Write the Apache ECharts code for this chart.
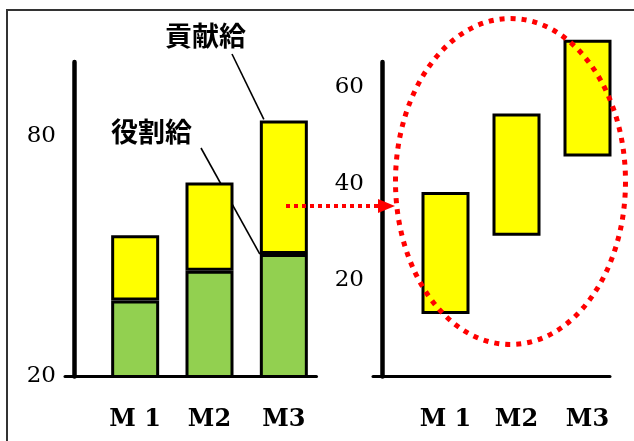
<!DOCTYPE html>
<html>
<head>
<meta charset="utf-8">
<script src="https://cdn.jsdelivr.net/npm/echarts@6/dist/echarts.min.js"></script>
<style>
  html, body { margin: 0; padding: 0; background: #fff; }
  #chart { width: 634px; height: 441px; }
</style>
</head>
<body>
<div id="chart"></div>
<script>
// Months shown on both panels
const categories = ['M 1', 'M2', 'M3'];

// Left panel: stacked pay (役割給 below, 貢献給 on top)
const rolePay = [39, 46.4, 50.6];
const contributionPay = [16.3, 22.1, 33.4];
const leftTickLabels = [20, 80];

// Right panel: contribution pay band (floating bars: low end + span)
const bandLow = [13, 29.2, 45.7];
const bandSpan = [25.3, 25.4, 24.2];
const rightTickLabels = [20, 40, 60];

const GREEN = '#92D050';
const YELLOW = '#FFFF00';
const RED = '#FF0000';
const serif = 'DejaVu Serif';
const gothic = '"Noto Sans CJK JP", sans-serif';

const chart = echarts.init(document.getElementById('chart'), null, { renderer: 'canvas' });

function tickFormatter(list) {
  return function (v) {
    return list.indexOf(Math.round(v * 1000) / 1000) >= 0 ? String(v) : '';
  };
}

const barBorder = { borderColor: '#000', borderWidth: 3 };
const catLabel = { fontFamily: serif, fontWeight: 'bold', fontSize: 24, color: '#000', margin: 31 };
const valLabel = { fontFamily: serif, fontSize: 23, color: '#000', margin: 18, padding: [0, 0, 8, 0] };

const option = {
  animation: false,
  backgroundColor: '#fff',
  grid: [
    // left bars
    { left: 98, width: 223, top: 62, height: 314.5, outerBoundsMode: 'none' },
    // left baseline
    { left: 65, width: 251.5, top: 62, height: 314.5, outerBoundsMode: 'none' },
    // right bars
    { left: 410, width: 213, top: 62, height: 314.5, outerBoundsMode: 'none' },
    // right baseline
    { left: 373, width: 237, top: 62, height: 314.5, outerBoundsMode: 'none' }
  ],
  xAxis: [
    { gridIndex: 0, type: 'category', data: categories,
      axisLine: { show: false }, axisTick: { show: false }, axisLabel: catLabel },
    { gridIndex: 1, type: 'value', min: 0, max: 1,
      axisLine: { show: true, lineStyle: { color: '#000', width: 3 } },
      axisTick: { show: false }, axisLabel: { show: false }, splitLine: { show: false } },
    { gridIndex: 2, type: 'category', data: categories,
      axisLine: { show: false }, axisTick: { show: false }, axisLabel: catLabel },
    { gridIndex: 3, type: 'value', min: 0, max: 1,
      axisLine: { show: true, lineStyle: { color: '#000', width: 3 } },
      axisTick: { show: false }, axisLabel: { show: false }, splitLine: { show: false } }
  ],
  yAxis: [
    { gridIndex: 0, type: 'value', min: 20, max: 98.6, interval: 20, offset: 24,
      axisLine: { show: true, lineStyle: { color: '#000', width: 4.5 } },
      axisTick: { show: false }, splitLine: { show: false },
      axisLabel: Object.assign({ formatter: tickFormatter(leftTickLabels), showMaxLabel: false }, valLabel) },
    { gridIndex: 1, type: 'value', show: false, min: 0, max: 1 },
    { gridIndex: 2, type: 'value', min: 0, max: 65.3, interval: 20, offset: 28,
      axisLine: { show: true, lineStyle: { color: '#000', width: 4.5 } },
      axisTick: { show: false }, splitLine: { show: false },
      axisLabel: Object.assign({ formatter: tickFormatter(rightTickLabels), showMaxLabel: false }, valLabel) },
    { gridIndex: 3, type: 'value', show: false, min: 0, max: 1 }
  ],
  series: [
    { name: '役割給', type: 'bar', xAxisIndex: 0, yAxisIndex: 0, stack: 'pay',
      data: rolePay, barWidth: 48, z: 3,
      itemStyle: Object.assign({ color: GREEN }, barBorder) },
    { name: '貢献給', type: 'bar', xAxisIndex: 0, yAxisIndex: 0, stack: 'pay',
      data: contributionPay, barWidth: 48, z: 3,
      itemStyle: Object.assign({ color: YELLOW }, barBorder) },
    { name: 'base', type: 'bar', xAxisIndex: 2, yAxisIndex: 2, stack: 'band',
      data: bandLow, barWidth: 48, silent: true, clip: false,
      itemStyle: { color: 'rgba(0,0,0,0)', borderWidth: 0 } },
    { name: '貢献給幅', type: 'bar', xAxisIndex: 2, yAxisIndex: 2, stack: 'band',
      data: bandSpan, barWidth: 48, clip: false, z: 3,
      itemStyle: Object.assign({ color: YELLOW }, barBorder) }
  ]
};

chart.setOption(option);

// Leader lines point at the corners of the M3 bar segments
const m3 = categories[2];
const halfBar = 24;
const m3RoleTop = chart.convertToPixel({ xAxisIndex: 0, yAxisIndex: 0 }, [m3, rolePay[2]]);
const m3TotalTop = chart.convertToPixel({ xAxisIndex: 0, yAxisIndex: 0 }, [m3, rolePay[2] + contributionPay[2]]);

chart.setOption({
  graphic: [
    // frame edges
    { type: 'polyline', z: 0, shape: { points: [[7, 441], [7, 10], [634, 10]] },
      style: { stroke: '#333', lineWidth: 2, fill: 'none' } },
    // leader lines (drawn under the bars)
    { type: 'line', z: 1, shape: { x1: 232, y1: 54, x2: m3TotalTop[0] - halfBar + 4, y2: m3TotalTop[1] - 1 },
      style: { stroke: '#000', lineWidth: 1.6 } },
    { type: 'line', z: 1, shape: { x1: 201, y1: 148, x2: m3RoleTop[0] - halfBar, y2: m3RoleTop[1] },
      style: { stroke: '#000', lineWidth: 1.6 } },
    // labels
    { type: 'text', z: 10, left: 165, top: 22,
      style: { text: '貢献給', font: 'bold 27px ' + gothic, fill: '#000' } },
    { type: 'text', z: 10, left: 111, top: 118,
      style: { text: '役割給', font: 'bold 27px ' + gothic, fill: '#000' } },
    // dotted arrow into the right panel
    { type: 'line', z: 20, shape: { x1: 286, y1: 206, x2: 380, y2: 206 },
      style: { stroke: RED, lineWidth: 4, lineDash: [4, 4] } },
    { type: 'polygon', z: 20, shape: { points: [[378, 199], [395, 206], [378, 213]] },
      style: { fill: RED } },
    // dotted ellipse around the right panel's bands
    { type: 'ellipse', z: 20, shape: { cx: 510.5, cy: 181.5, rx: 115, ry: 163 },
      style: { fill: 'none', stroke: RED, lineWidth: 5, lineDash: [5, 6] } }
  ]
});
</script>
</body>
</html>
